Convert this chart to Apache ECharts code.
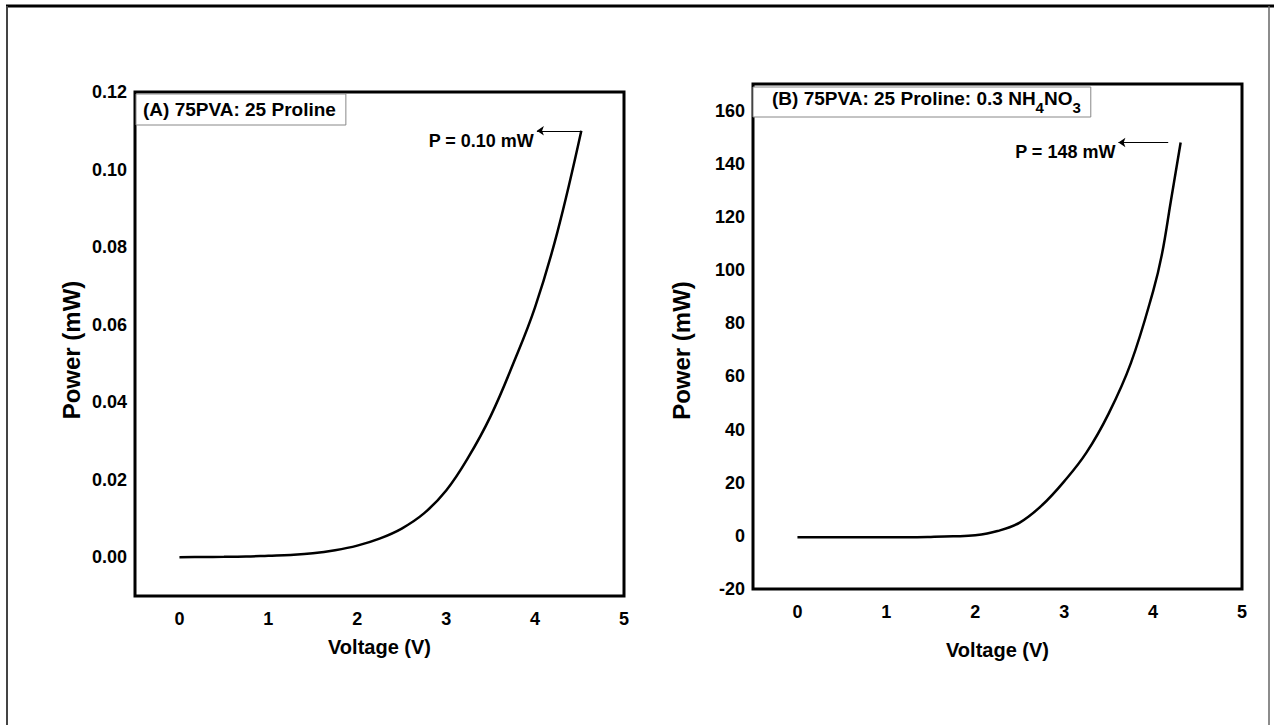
<!DOCTYPE html>
<html>
<head>
<meta charset="utf-8">
<script src="https://cdn.jsdelivr.net/npm/echarts@6/dist/echarts.min.js"></script>
<style>
html,body{margin:0;padding:0;background:#fff;}
#chart{width:1274px;height:725px;}
</style>
</head>
<body>
<div id="chart"></div>
<script>
// ---- data ----
const nameA = '(A) 75PVA: 25 Proline';
const voltageA = [0, 0.25, 0.5, 0.75, 1, 1.25, 1.5, 1.75, 2, 2.25, 2.5, 2.75, 3, 3.25, 3.5, 3.75, 4, 4.25, 4.52];
const powerA = [0, 0.00005, 0.0001, 0.0002, 0.0004, 0.0006, 0.001, 0.0018, 0.003, 0.0048, 0.0074, 0.0113, 0.0172, 0.0258, 0.0364, 0.0497, 0.0645, 0.0838, 0.11];

const nameB = '(B) 75PVA: 25 Proline: 0.3 NH4NO3';
const voltageB = [0, 0.25, 0.5, 0.75, 1, 1.25, 1.5, 1.75, 2, 2.25, 2.5, 2.75, 3, 3.25, 3.5, 3.75, 4, 4.1, 4.2, 4.31];
const powerB = [-0.5, -0.5, -0.5, -0.5, -0.5, -0.5, -0.4, -0.2, 0.2, 1.8, 5, 11.5, 20.5, 31.3, 46, 65, 92, 106, 126, 148];

const xTicks = [0, 1, 2, 3, 4, 5];
const yTicksA = [0, 0.02, 0.04, 0.06, 0.08, 0.10, 0.12];
const yTicksB = [-20, 0, 20, 40, 60, 80, 100, 120, 140, 160];

const annoA = {text: 'P = 0.10 mW', from: [4.52, 0.11], to: [4.02, 0.11]};
const annoB = {text: 'P = 148 mW', from: [4.17, 148], to: [3.61, 148]};

// ---- chart ----
const FONT = '"Liberation Sans", Arial, Helvetica, sans-serif';
const chart = echarts.init(document.getElementById('chart'), null, {renderer: 'svg'});

function xAxis(gi, gap) {
  return {
    type: 'value', gridIndex: gi, min: -0.5, max: 5,
    name: 'Voltage (V)', nameLocation: 'middle', nameGap: gap,
    nameTextStyle: {fontFamily: FONT, fontWeight: 'bold', fontSize: 20, color: '#000'},
    axisLine: {show: false}, axisTick: {show: false}, splitLine: {show: false},
    axisLabel: {customValues: xTicks, margin: 14, fontFamily: FONT, fontWeight: 'bold', fontSize: 18, color: '#000'}
  };
}
function yAxis(gi, min, max, ticks, fmt, gap, pad) {
  return {
    type: 'value', gridIndex: gi, min: min, max: max,
    name: 'Power (mW)', nameLocation: 'middle', nameGap: gap,
    nameTextStyle: {fontFamily: FONT, fontWeight: 'bold', fontSize: 24, color: '#000', padding: pad},
    axisLine: {show: false}, axisTick: {show: false}, splitLine: {show: false},
    axisLabel: {customValues: ticks, formatter: fmt, margin: 8, fontFamily: FONT, fontWeight: 'bold', fontSize: 18, color: '#000'}
  };
}
function annotation(a) {
  return {
    silent: true, symbol: ['none', 'arrow'], symbolSize: 7,
    lineStyle: {color: '#000', width: 1, type: 'solid'},
    label: {show: true, position: 'end', distance: 3, formatter: '\n' + a.text, lineHeight: 20,
      fontFamily: FONT, fontWeight: 'bold', fontSize: 18, color: '#000'},
    data: [[{coord: a.from}, {coord: a.to}]]
  };
}
function legend(name, left, top, pad, fmt, rich) {
  return {
    data: [name], left: left, top: top, orient: 'horizontal', icon: 'none', itemWidth: 0, itemGap: 0,
    selectedMode: false, borderColor: '#888', borderWidth: 1, backgroundColor: '#fff', padding: pad,
    formatter: fmt,
    textStyle: {fontFamily: FONT, fontWeight: 'bold', fontSize: 19, color: '#000', rich: rich}
  };
}

const option = {
  backgroundColor: '#fff',
  animation: false,
  graphic: [
    {type: 'line', shape: {x1: 6, y1: 6, x2: 1274, y2: 6}, style: {stroke: '#000', lineWidth: 3}},
    {type: 'line', shape: {x1: 7, y1: 6, x2: 7, y2: 725}, style: {stroke: '#444', lineWidth: 2}},
    {type: 'line', shape: {x1: 1269, y1: 6, x2: 1269, y2: 725}, style: {stroke: '#666', lineWidth: 1.5}}
  ],
  grid: [
    {left: 135, top: 92, width: 489, height: 504, show: true, borderColor: '#000', borderWidth: 3, backgroundColor: 'transparent'},
    {left: 753, top: 84, width: 489, height: 505, show: true, borderColor: '#000', borderWidth: 3, backgroundColor: 'transparent'}
  ],
  legend: [
    legend(nameA, 136, 94, [6, 10, 6, 2], null, null),
    legend(nameB, 753, 87, [2, 10, 2, 14],
      function () { return '{t|(B) 75PVA: 25 Proline: 0.3 NH}{s|4}{t|NO}{s|3}'; },
      {
        t: {fontFamily: FONT, fontWeight: 'bold', fontSize: 19, color: '#000', lineHeight: 33, verticalAlign: 'middle'},
        s: {fontFamily: FONT, fontWeight: 'bold', fontSize: 15, color: '#000', lineHeight: 33, verticalAlign: 'bottom'}
      })
  ],
  xAxis: [xAxis(0, 41), xAxis(1, 51)],
  yAxis: [
    yAxis(0, -0.01, 0.12, yTicksA, function (v) { return v.toFixed(2); }, 52, [0, 12, 0, 0]),
    yAxis(1, -20, 170, yTicksB, function (v) { return String(v); }, 60, [0, 28, 0, 0])
  ],
  series: [
    {
      name: nameA, type: 'line', xAxisIndex: 0, yAxisIndex: 0, smooth: 0.4, showSymbol: false,
      lineStyle: {color: '#000', width: 2.5}, itemStyle: {color: '#000'},
      data: voltageA.map(function (v, i) { return [v, powerA[i]]; }),
      markLine: annotation(annoA)
    },
    {
      name: nameB, type: 'line', xAxisIndex: 1, yAxisIndex: 1, smooth: 0.4, showSymbol: false,
      lineStyle: {color: '#000', width: 2.5}, itemStyle: {color: '#000'},
      data: voltageB.map(function (v, i) { return [v, powerB[i]]; }),
      markLine: annotation(annoB)
    }
  ]
};
chart.setOption(option);
</script>
</body>
</html>
